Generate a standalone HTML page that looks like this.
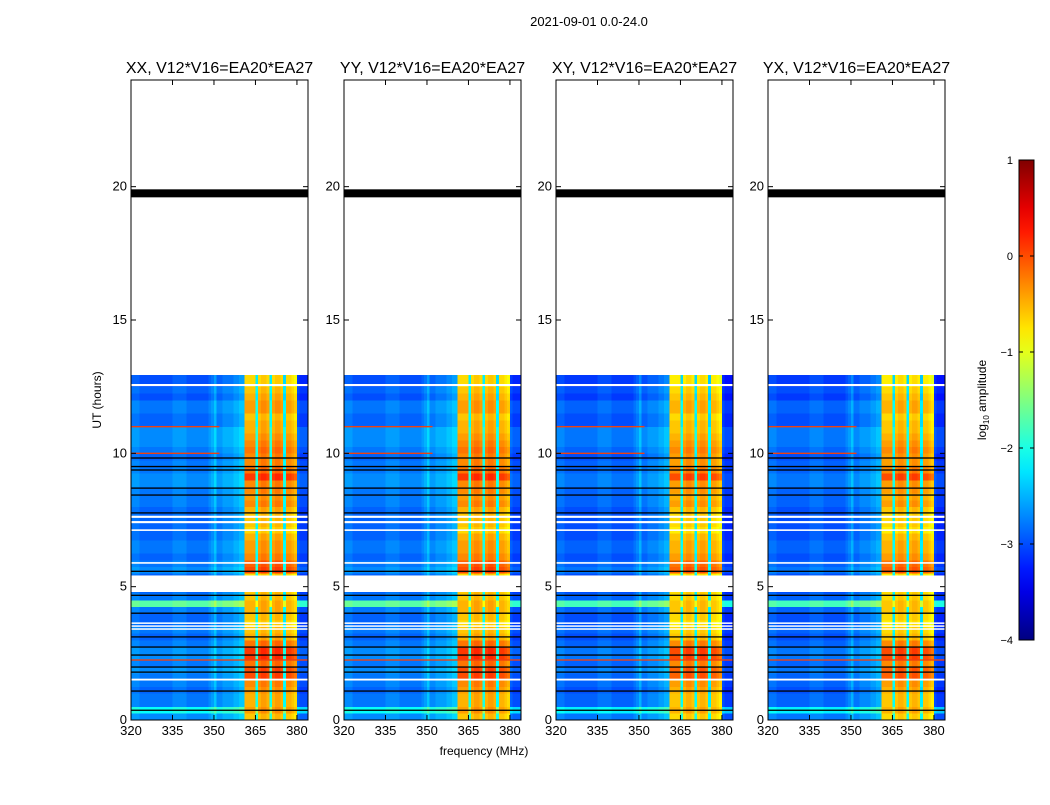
<!DOCTYPE html>
<html><head><meta charset="utf-8"><style>
body{margin:0;background:#fff;font-family:"Liberation Sans",sans-serif;}
svg text{font-family:"Liberation Sans","DejaVu Sans",sans-serif;}
</style></head><body>
<svg id="fig" width="1050" height="800" viewBox="0 0 1050 800" xmlns="http://www.w3.org/2000/svg">
<rect width="1050" height="800" fill="#fff"/>
<text x="589" y="26" font-size="13" text-anchor="middle">2021-09-01 0.0-24.0</text>
<text x="484" y="755" font-size="12" text-anchor="middle">frequency (MHz)</text>
<text transform="translate(101,400) rotate(-90)" font-size="12" text-anchor="middle">UT (hours)</text>
<g id="panels"></g>
<g id="cbar"></g>
</svg>
<script>
const panelTitles=["XX, V12*V16=EA20*EA27","YY, V12*V16=EA20*EA27","XY, V12*V16=EA20*EA27","YX, V12*V16=EA20*EA27"];
const panelOffset=[0.0,0.0,-0.1,-0.1];
const freqStart=320, freqStep=1;
const freqLevel=[-2.9,-2.9,-2.9,-3.0,-3.0,-3.0,-3.0,-3.0,-3.0,-3.0,
-3.0,-3.0,-3.0,-3.0,-3.0,-2.9,-2.9,-2.9,-2.9,-2.9,
-3.0,-3.0,-3.0,-3.0,-3.0,-3.0,-3.0,-3.0,-2.9,-2.8,
-2.6,-2.9,-2.9,-2.8,-2.8,-2.8,-2.8,-2.7,-2.7,-2.6,
-2.6,-0.7,-0.7,-0.7,-0.7,-2.2,-0.7,-0.6,-0.6,-0.7,
-2.2,-0.7,-0.6,-0.6,-0.7,-2.3,-0.7,-0.7,-0.8,-0.9,
-3.1,-3.2,-3.2,-3.2];
const timeStep=0.25;
const timeOffset=[0.3,0.9,0.2,0.2,0.1,0.2,0.2,0.3,0.2,0.3,0.3,0.2,0.1,0.2,0.1,0.1,0.2,1.3,0.2,0.1,0.1,0.1,0.3,0.2,0.1,0.2,0.2,0.1,0.1,0.1,0.1,0.1,0.2,0.2,0.2,0.3,0.3,0.2,0.2,0.1,0.2,0.3,0.3,0.3,0.1,0.1,0.2,0.2,0.0,0.1,0.0,0.0];
const bandOffset=[0.1,0.3,0.2,0.2,0.3,0.4,0.7,0.7,0.5,0.8,0.8,0.5,0.2,0.1,0.0,0.1,0.2,0.2,0.1,0.1,0.0,0.0,0.7,0.6,0.4,0.3,0.3,0.2,0.0,0.1,0.1,0.2,0.4,0.3,0.4,0.4,0.8,0.5,0.4,0.4,0.5,0.4,0.3,0.2,0.2,0.1,0.3,0.3,0.2,0.1,0.0,0.0];
const dataEnd=12.94;
const whiteLines=[[4.8,5.42],[12.52,12.6],[7.58,7.66],[7.38,7.46],[7.09,7.15],[5.86,5.92],[3.61,3.66],[3.5,3.55],[3.39,3.44],[1.48,1.55]];
const blackLines=[[19.6,19.9],[9.8,9.85],[9.48,9.53],[9.35,9.4],[8.68,8.72],[8.42,8.46],[7.75,7.79],[5.56,5.6],[4.66,4.7],[3.98,4.03],[3.1,3.14],[2.72,2.76],[2.42,2.46],[1.97,2.01],[1.78,1.82],[1.07,1.11],[0.35,0.39]];
const redLines=[[11.0,320,352],[10.0,320,352],[2.25,320,384]];
const xTicks=[320,335,350,365,380];
const yTicks=[0,5,10,15,20];
const cbTicks=[1,0,-1,-2,-3,-4];

const NS="http://www.w3.org/2000/svg";
const panelX=[131,344,556,768], PW=177, PT=80, PB=720;
const xMin=320,xMax=384,yMin=0,yMax=24,vMin=-4,vMax=1;
function jet(v){let t=Math.max(0,Math.min(1,(v-vMin)/(vMax-vMin)));
 const c=x=>Math.round(255*Math.max(0,Math.min(1,x)));
 return `rgb(${c(1.5-Math.abs(4*t-3))},${c(1.5-Math.abs(4*t-2))},${c(1.5-Math.abs(4*t-1))})`;}
function mk(tag,attrs,parent){const e=document.createElementNS(NS,tag);for(const k in attrs)e.setAttribute(k,attrs[k]);parent.appendChild(e);return e;}
const root=document.getElementById('panels');
panelTitles.forEach((title,p)=>{
 const x0=panelX[p];
 const xs=f=>x0+(f-xMin)/(xMax-xMin)*PW;
 const ys=h=>PB-(h-yMin)/(yMax-yMin)*(PB-PT);
 const g=mk('g',{},root);
 
 
 const hm=mk('g',{'shape-rendering':'crispEdges'},g);
 
 
 timeOffset.forEach((to,j)=>{
  const t0=j*timeStep, t1=Math.min(dataEnd,(j+1)*timeStep);
  if(t0>=dataEnd)return;
  freqLevel.forEach((fl,i)=>{
   const f0=freqStart+i*freqStep;
   const isBand=fl>-1.5;
   const v=fl+(isBand?bandOffset[j]:to)+panelOffset[p];
   const r=mk('rect',{x:xs(f0),y:ys(t1),width:xs(f0+freqStep)-xs(f0)+0.3,height:ys(t0)-ys(t1)+0.3,fill:jet(v)},hm);
   
   
  });
 });
 redLines.forEach(([h,a,b])=>{const r=mk('rect',{x:xs(a),y:ys(h)-0.7,width:xs(b)-xs(a),height:1.4,fill:'#f04010'},g);
  
  });
 whiteLines.forEach(([a,b])=>{const r=mk('rect',{x:x0,y:ys(b),width:PW,height:Math.max(1.5,ys(a)-ys(b)),fill:'#fff'},g);
  
  });
 blackLines.forEach(([a,b])=>{const r=mk('rect',{x:x0,y:ys(b),width:PW,height:Math.max(1.3,ys(a)-ys(b)),fill:'#000'},g);
  
  });
 const fr=mk('rect',{x:x0,y:PT,width:PW,height:PB-PT,fill:'none',stroke:'#000','stroke-width':1},g);
 
 
 const tt=mk('text',{x:x0+PW/2,y:73,'font-size':16,'text-anchor':'middle'},g);tt.textContent=title;
 
 
 xTicks.forEach(v=>{const x=xs(v);
  mk('line',{x1:x,x2:x,y1:PB,y2:PB-5,stroke:'#000'},g);mk('line',{x1:x,x2:x,y1:PT,y2:PT+5,stroke:'#000'},g);
  const t=mk('text',{x:x,y:PB+15,'font-size':13,'text-anchor':'middle'},g);t.textContent=v;
  
  });
 yTicks.forEach(v=>{const y=ys(v);
  mk('line',{x1:x0,x2:x0+5,y1:y,y2:y,stroke:'#000'},g);mk('line',{x1:x0+PW,x2:x0+PW-5,y1:y,y2:y,stroke:'#000'},g);
  const t=mk('text',{x:x0-4,y:y+4,'font-size':13,'text-anchor':'end'},g);t.textContent=v;
  
  });
});
// colorbar
const cb=document.getElementById('cbar');
const CX=1019,CW=15,CT=160,CB=640;
const defs=mk('defs',{},cb);
const grad=mk('linearGradient',{id:'jetg',x1:0,y1:1,x2:0,y2:0},defs);
for(let k=0;k<=20;k++){mk('stop',{offset:k/20,'stop-color':jet(vMin+k/20*(vMax-vMin))},grad);}
const cr=mk('rect',{x:CX,y:CT,width:CW,height:CB-CT,fill:'url(#jetg)',stroke:'#000','stroke-width':1},cb);


cbTicks.forEach(v=>{const y=CB-(v-vMin)/(vMax-vMin)*(CB-CT);
 mk('line',{x1:CX,x2:CX+4,y1:y,y2:y,stroke:'#000'},cb);mk('line',{x1:CX+CW,x2:CX+CW-4,y1:y,y2:y,stroke:'#000'},cb);
 const t=mk('text',{x:1013,y:y+4,'font-size':11,'text-anchor':'end'},cb);t.textContent=(v<0?'\u2212'+(-v):v);
 
 });
const cl=mk('text',{transform:'translate(986,400) rotate(-90)','font-size':12,'text-anchor':'middle'},cb);
cl.innerHTML='log<tspan font-size="8" dy="3">10</tspan><tspan dy="-3"> amplitude</tspan>';


</script>
</body></html>
